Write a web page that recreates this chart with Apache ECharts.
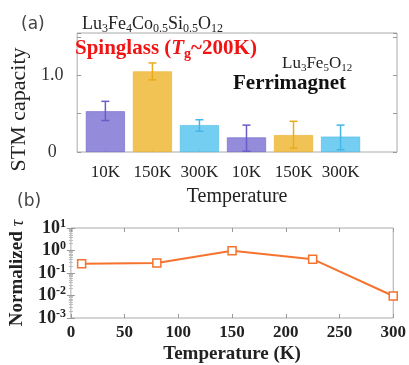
<!DOCTYPE html>
<html>
<head>
<meta charset="utf-8"/>
<title>STM capacity</title>
<script src="https://cdn.jsdelivr.net/npm/echarts@6/dist/echarts.min.js"></script>
<style>
  html, body { margin: 0; padding: 0; background: #fff; }
  #main { width: 409px; height: 365px; }
</style>
</head>
<body>
<div id="main"></div>
<script>
// panel (a): bars
var barPos = [1, 2, 3, 4, 5, 6];
var barLabels = ['10K', '150K', '300K', '10K', '150K', '300K'];
var barValues = [0.53, 1.05, 0.35, 0.19, 0.22, 0.20];
var errLow = [0.41, 0.94, 0.27, 0.01, 0.05, 0.03];
var errHigh = [0.66, 1.16, 0.42, 0.35, 0.40, 0.35];
var barColors = ['#8e85d8', '#f0c04c', '#6dcbf0', '#8e85d8', '#f0c04c', '#6dcbf0'];
var errColors = ['#6a5dc8', '#e8ab1c', '#45b5e6', '#6a5dc8', '#e8ab1c', '#45b5e6'];

// panel (b): normalized tau
var tempK = [10, 80, 150, 225, 300];
var tauValues = [0.26, 0.28, 0.97, 0.41, 0.0095];

var serif = "'Liberation Serif', 'DejaVu Serif', serif";
var frame = '#aaaaaa';

var chart = echarts.init(document.getElementById('main'))

var barData = barPos.map(function (p, i) {
    return { value: [p, barValues[i]], itemStyle: { color: barColors[i], borderColor: errColors[i], borderWidth: 0.6, opacity: 0.95 } }
})
var errData = barPos.map(function (p, i) { return [p, errLow[i], errHigh[i]] })
var tauData = tempK.map(function (t, i) { return [t, tauValues[i]] })

function renderErr(params, api) {
    var x = api.value(0)
    var lo = api.coord([x, api.value(1)])
    var hi = api.coord([x, api.value(2)])
    var c = errColors[params.dataIndex]
    var st = { stroke: c, lineWidth: 1.5 }
    return {
        type: 'group',
        children: [
            { type: 'line', shape: { x1: lo[0], y1: lo[1], x2: hi[0], y2: hi[1] }, style: st },
            { type: 'line', shape: { x1: lo[0] - 4, y1: lo[1], x2: lo[0] + 4, y2: lo[1] }, style: st },
            { type: 'line', shape: { x1: hi[0] - 4, y1: hi[1], x2: hi[0] + 4, y2: hi[1] }, style: st }
        ]
    }
}

function supLabel(v) {
    var e = Math.round(Math.log10(v))
    return '{b|10}{s|' + e + '}'
}

// rich styles for chemical formulas (subscripts pushed down with top padding)
function formula(size, subSize) {
    return {
        fontWeight: 'normal',
        rich: {
            n: { fontFamily: serif, fontSize: size, fontWeight: 'normal', color: '#222' },
            s: { fontFamily: serif, fontSize: subSize, fontWeight: 'normal', color: '#222', padding: [9, 0, 0, 0] }
        }
    }
}

var tickIn = { show: true, inside: true, length: 4, lineStyle: { color: '#999' } }
var plain = { fontFamily: serif, fontSize: 17, fontWeight: 'normal', color: '#222' }
var bold = { fontFamily: serif, fontSize: 17, fontWeight: 'bold', color: '#222' }
var red = '#f01414'

chart.setOption({
    animation: false,
    title: [
        { text: '(a)', left: 21, top: 16, padding: 0,
          textStyle: { fontFamily: "'DejaVu Sans', sans-serif", fontWeight: 'normal', fontSize: 17, color: '#444' } },
        { text: '{n|Lu}{s|3}{n|Fe}{s|4}{n|Co}{s|0.5}{n|Si}{s|0.5}{n|O}{s|12}', left: 82, top: 14, padding: 0,
          textStyle: formula(18, 12) },
        { text: '{n|Spinglass (}{i|T}{s|g}{n|~200K)}', left: 75, top: 37, padding: 0,
          textStyle: { rich: {
              n: { fontFamily: serif, fontSize: 21, fontWeight: 'bold', color: red },
              i: { fontFamily: serif, fontSize: 21, fontWeight: 'bold', fontStyle: 'italic', color: red },
              s: { fontFamily: serif, fontSize: 14, fontWeight: 'bold', color: red, padding: [10, 0, 0, 0] } } } },
        { text: '{n|Lu}{s|3}{n|Fe}{s|5}{n|O}{s|12}', left: 282, top: 54, padding: 0,
          textStyle: formula(17, 11) },
        { text: 'Ferrimagnet', left: 233, top: 73, padding: 0,
          textStyle: { fontFamily: serif, fontSize: 21, fontWeight: 'bold', color: '#111' } },
        { text: '(b)', left: 17, top: 193, padding: 0,
          textStyle: { fontFamily: "'DejaVu Sans', sans-serif", fontWeight: 'normal', fontSize: 17, color: '#444' } }
    ],
    grid: [
        { left: 72, right: 12, top: 33, height: 119, show: true, borderColor: frame, borderWidth: 1 },
        { left: 68, right: 14, top: 228, height: 95, show: true, borderColor: frame, borderWidth: 1 }
    ],
    xAxis: [
        { gridIndex: 0, type: 'value', min: 0.4, max: 7.2, position: 'bottom',
          axisLine: { show: false }, splitLine: { show: false },
          axisTick: { show: true, inside: true, length: 3, customValues: barPos, lineStyle: { color: '#999' } },
          axisLabel: { customValues: barPos, margin: 12, rich: { t: plain },
                       formatter: function (v) { return '{t|' + barLabels[barPos.indexOf(v)] + '}' } },
          name: 'Temperature', nameLocation: 'middle', nameGap: 35,
          nameTextStyle: { fontFamily: serif, fontSize: 20, color: '#222' } },
        { gridIndex: 1, type: 'value', min: 0, max: 300, interval: 50, position: 'bottom',
          axisLine: { show: false }, splitLine: { show: false }, axisTick: tickIn,
          axisLabel: { margin: 6, rich: { t: bold }, formatter: function (v) { return '{t|' + v + '}' } },
          name: 'Temperature (K)', nameLocation: 'middle', nameGap: 27,
          nameTextStyle: { fontFamily: serif, fontSize: 19, fontWeight: 'bold', color: '#222' } },
        { gridIndex: 1, type: 'value', min: 0, max: 300, interval: 50, position: 'top',
          axisLine: { show: false }, splitLine: { show: false }, axisTick: tickIn, axisLabel: { show: false } }
    ],
    yAxis: [
        { gridIndex: 0, type: 'value', min: 0, max: 1.55, interval: 0.5, position: 'left',
          axisLine: { show: false }, splitLine: { show: false }, axisTick: tickIn,
          axisLabel: { align: 'center', margin: 25, rich: { t: { fontFamily: serif, fontSize: 18, color: '#333' } },
                       formatter: function (v) { return v === 0 ? '{t|0}' : (v === 1 ? '{t|1.0}' : '') } },
          name: 'STM capacity', nameLocation: 'middle', nameGap: 38,
          nameTextStyle: { fontFamily: serif, fontSize: 22, color: '#222', padding: [0, 34, 0, 0] } },
        { gridIndex: 0, type: 'value', min: 0, max: 1.55, interval: 0.5, position: 'right',
          axisLine: { show: false }, splitLine: { show: false }, axisTick: tickIn, axisLabel: { show: false } },
        { gridIndex: 1, type: 'log', logBase: 10, min: 0.001, max: 10, position: 'left',
          axisLine: { show: false }, splitLine: { show: false }, axisTick: tickIn,
          minorTick: { show: true, splitNumber: 9, length: 2, lineStyle: { color: '#bbb' } },
          axisLabel: { margin: 5, formatter: supLabel, rich: {
              b: { fontFamily: serif, fontSize: 18, fontWeight: 'bold', color: '#222' },
              s: { fontFamily: serif, fontSize: 12, fontWeight: 'bold', color: '#222', padding: [0, 0, 9, 0] } } },
          name: '{b|Normalized }{i|τ}', nameLocation: 'middle', nameGap: 36,
          nameTextStyle: { rich: {
              b: { fontFamily: serif, fontSize: 19, fontWeight: 'bold', color: '#222' },
              i: { fontFamily: serif, fontSize: 19, fontStyle: 'italic', color: '#222' } } } },
        { gridIndex: 1, type: 'log', logBase: 10, min: 0.001, max: 10, position: 'right',
          axisLine: { show: false }, splitLine: { show: false }, axisTick: tickIn,
          minorTick: { show: true, splitNumber: 9, length: 2, lineStyle: { color: '#bbb' } },
          axisLabel: { show: false } }
    ],
    series: [
        { type: 'bar', xAxisIndex: 0, yAxisIndex: 0, barWidth: 39, data: barData },
        { type: 'custom', xAxisIndex: 0, yAxisIndex: 0, renderItem: renderErr,
          encode: { x: 0, y: [1, 2] }, data: errData, z: 5 },
        { type: 'line', xAxisIndex: 1, yAxisIndex: 2, data: tauData,
          symbol: 'rect', symbolSize: 8, showAllSymbol: true,
          lineStyle: { color: '#f5732f', width: 2 },
          itemStyle: { color: '#fff', borderColor: '#f5732f', borderWidth: 1.5 } }
    ]
})
</script>
</body>
</html>
